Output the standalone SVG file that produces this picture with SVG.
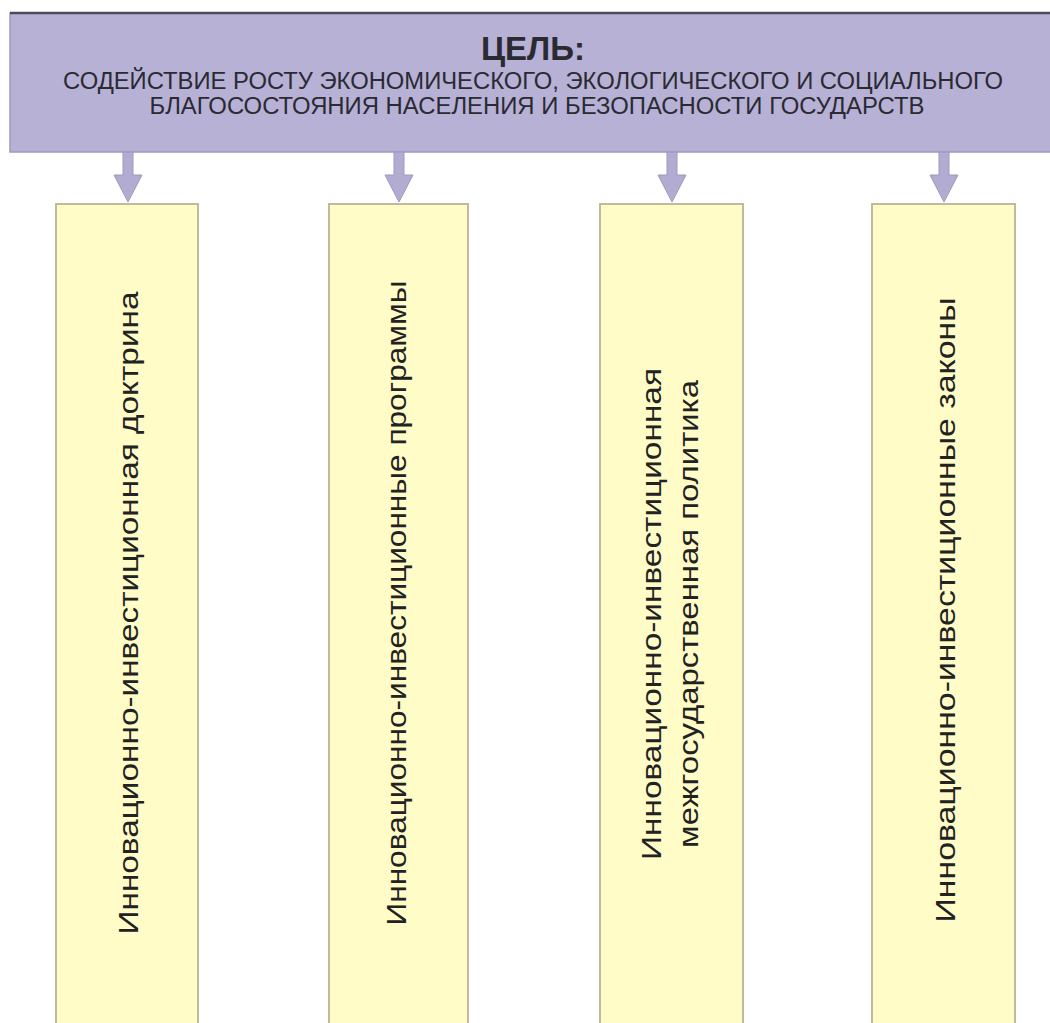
<svg xmlns="http://www.w3.org/2000/svg" width="1050" height="1023" viewBox="0 0 1050 1023">
  <style>
    .goal { fill: #b7b1d6; stroke: #9f99bf; stroke-width: 1.5; }
    .goal-top { stroke: #4d4b58; stroke-width: 2.5; }
    .item { fill: #fffcc8; stroke: #bdbb9c; stroke-width: 2; }
    .arrow { fill: #b2abd2; stroke: #9f98c2; stroke-width: 1; }
    .title { font-family: "Liberation Sans", Arial, sans-serif; font-weight: bold; font-size: 33px; fill: #2a2a33; text-anchor: middle; }
    .sub { font-family: "Liberation Sans", Arial, sans-serif; font-size: 23px; fill: #2a2a33; text-anchor: middle; }
    .label { font-family: "Liberation Sans", Arial, sans-serif; font-size: 27px; fill: #222222; text-anchor: middle; }
  </style>
  <defs>
    <!-- block arrow pointing down, origin at its tip -->
    <path id="down" d="M -5 -50 L 5 -50 L 5 -27 L 14 -27 L 0 0 L -14 -27 L -5 -27 Z"/>
  </defs>

  <rect width="1050" height="1023" fill="#ffffff"/>

  <!-- goal banner -->
  <g id="goal">
    <rect class="goal" x="10" y="13" width="1045" height="139"/>
    <line class="goal-top" x1="10" y1="13" x2="1050" y2="13"/>
    <text class="title" x="533" y="60">ЦЕЛЬ:</text>
    <text class="sub" x="533" y="89" textLength="940" lengthAdjust="spacingAndGlyphs">СОДЕЙСТВИЕ РОСТУ ЭКОНОМИЧЕСКОГО, ЭКОЛОГИЧЕСКОГО И СОЦИАЛЬНОГО</text>
    <text class="sub" x="537" y="114" textLength="775" lengthAdjust="spacingAndGlyphs">БЛАГОСОСТОЯНИЯ НАСЕЛЕНИЯ И БЕЗОПАСНОСТИ ГОСУДАРСТВ</text>
  </g>

  <!-- connectors -->
  <g id="connectors">
    <use href="#down" class="arrow" x="128" y="202"/>
    <use href="#down" class="arrow" x="399" y="202"/>
    <use href="#down" class="arrow" x="672" y="202"/>
    <use href="#down" class="arrow" x="944" y="202"/>
  </g>

  <g id="doctrine">
    <rect class="item" x="56" y="204" width="142" height="830"/>
    <text class="label" transform="translate(138,613) rotate(-90)" textLength="643" lengthAdjust="spacingAndGlyphs">Инновационно-инвестиционная доктрина</text>
  </g>

  <g id="programs">
    <rect class="item" x="329" y="204" width="139" height="830"/>
    <text class="label" transform="translate(406,603) rotate(-90)" textLength="645" lengthAdjust="spacingAndGlyphs">Инновационно-инвестиционные программы</text>
  </g>

  <g id="policy">
    <rect class="item" x="600" y="204" width="143" height="830"/>
    <text class="label" transform="translate(661,614) rotate(-90)" textLength="492" lengthAdjust="spacingAndGlyphs">Инновационно-инвестиционная</text>
    <text class="label" transform="translate(698,614) rotate(-90)" textLength="468" lengthAdjust="spacingAndGlyphs">межгосударственная политика</text>
  </g>

  <g id="laws">
    <rect class="item" x="872" y="204" width="143" height="830"/>
    <text class="label" transform="translate(955,610) rotate(-90)" textLength="625" lengthAdjust="spacingAndGlyphs">Инновационно-инвестиционные законы</text>
  </g>
</svg>
